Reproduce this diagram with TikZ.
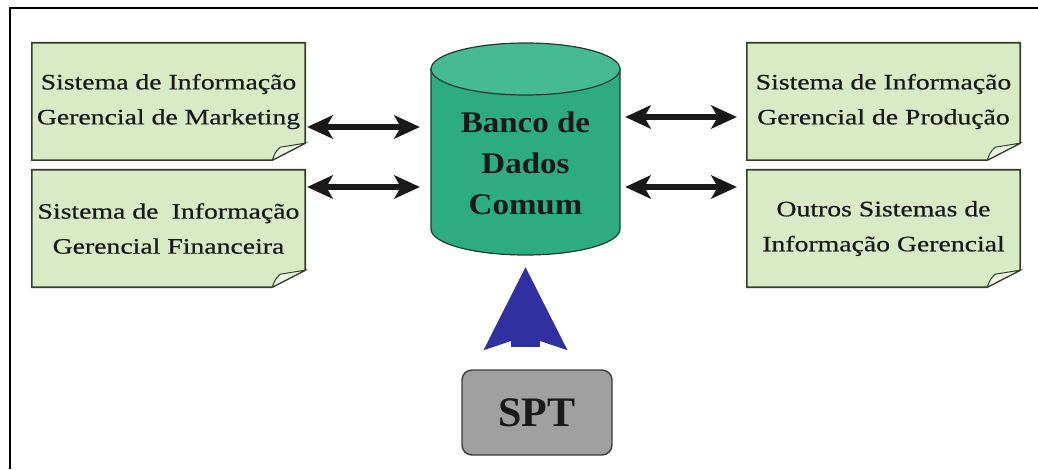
\documentclass[tikz,border=0pt]{standalone}
\usepackage{fontspec}
\setmainfont{Liberation Serif}
\newfontfamily\boxfont[FakeStretch=1.26,FakeBold=0.6]{Liberation Serif}
\newfontfamily\dbfont[FakeStretch=1.1]{Liberation Serif}
\usetikzlibrary{arrows.meta,backgrounds}
\definecolor{boxfill}{RGB}{216,235,196}
\definecolor{boxline}{RGB}{52,64,46}
\definecolor{flapfill}{RGB}{236,244,228}
\definecolor{dbbody}{RGB}{44,172,128}
\definecolor{dbtop}{RGB}{70,186,146}
\definecolor{dbline}{RGB}{30,60,48}
\definecolor{arrowblue}{RGB}{48,48,160}
\definecolor{sptfill}{RGB}{160,160,160}
\definecolor{sptline}{RGB}{60,60,60}
\tikzset{
  sysbox/.style={minimum width=273pt, minimum height=117pt, inner sep=0pt, align=center,
    font=\boxfont\fontsize{22}{35}\selectfont, text=black!90},
  outline/.style={draw=boxline, line width=1.6pt, fill=boxfill, line join=miter},
  flap/.style={draw=boxline, line width=1pt, fill=flapfill},
  dbtext/.style={minimum width=189pt, minimum height=184pt, inner sep=0pt, align=center,
    font=\dbfont\bfseries\fontsize{30}{41}\selectfont, text=black!90},
  sptbox/.style={draw=sptline, line width=1.4pt, fill=sptfill, rounded corners=10pt,
    minimum width=150pt, minimum height=85pt, inner sep=0pt,
    font=\bfseries\fontsize{42}{46}\selectfont, text=black!90},
  dblarrow/.style={line width=6pt, draw=black!90,
    {Stealth[length=26pt 0 0, width=24pt 0 0, inset=7pt 0, line width=0pt]}-{Stealth[length=26pt 0 0, width=24pt 0 0, inset=7pt 0, line width=0pt]}},
  bigarrow/.style={line width=29pt, draw=arrowblue,
    -{Stealth[length=83pt 0 0, width=84pt 0 0, inset=14pt 0, line width=0pt]}}
}
\begin{document}
\begin{tikzpicture}[x=1pt,y=1pt]
\useasboundingbox (0,0) rectangle (1038,469);

% nodes
\node[sysbox] (m1) at (168.5,367.5) {Sistema de Informação\\Gerencial de Marketing};
\node[sysbox] (m2) at (168.5,240.5) {Sistema de\hspace{0.6em}Informação\\Gerencial Financeira};
\node[sysbox] (p1) at (883.5,367.5) {Sistema de Informação\\Gerencial de Produção};
\node[sysbox] (p2) at (883.5,240.5) {Outros Sistemas de\\Informação Gerencial};
\node[dbtext] (db) at (525.5,306) {Banco de\\Dados\\Comum};
\node[sptbox] (spt) at (537,56.5) {SPT};

\begin{scope}[on background layer]
  \fill[white] (0,0) rectangle (1038,469);
  % cylinder
  \filldraw[fill=dbbody, draw=dbline, line width=1.2pt]
    (431,400) -- (431,240) arc[start angle=180, end angle=360, x radius=94.5, y radius=26]
    -- (620,400) -- cycle;
  \filldraw[fill=dbtop, draw=dbline, line width=1.2pt] (525.5,400) ellipse[x radius=94.5, y radius=26];
  % note boxes
  \foreach \n in {m1,m2,p1,p2}{
    \path[outline] (\n.north west) -- (\n.north east) -- ([yshift=17pt]\n.south east)
      -- ([xshift=-33pt]\n.south east) -- (\n.south west) -- cycle;
    \path[flap] ([xshift=-33pt]\n.south east) .. controls ([xshift=-30pt,yshift=8pt]\n.south east)
      .. ([xshift=-25pt,yshift=13pt]\n.south east) -- ([yshift=17pt]\n.south east) -- cycle;
  }
\end{scope}

% frame
\draw[line width=2.5pt] (10,0) -- (10,461) -- (1040,461);

% connectors
\coordinate (yl1) at (0,342);
\coordinate (yl2) at (0,282);
\coordinate (yr1) at (0,352);
\coordinate (yr2) at (0,282);
\draw[dblarrow, shorten <=2pt, shorten >=11pt] (m1.east |- yl1) -- (db.west |- yl1);
\draw[dblarrow, shorten <=2pt, shorten >=11pt] (m2.east |- yl2) -- (db.west |- yl2);
\draw[dblarrow, shorten <=5pt, shorten >=10pt] (db.east |- yr1) -- (p1.west |- yr1);
\draw[dblarrow, shorten <=5pt, shorten >=10pt] (db.east |- yr2) -- (p2.west |- yr2);
\draw[bigarrow, shorten <=22pt, shorten >=12pt] (db.south |- spt.north) -- (db.south);
\end{tikzpicture}
\end{document}
